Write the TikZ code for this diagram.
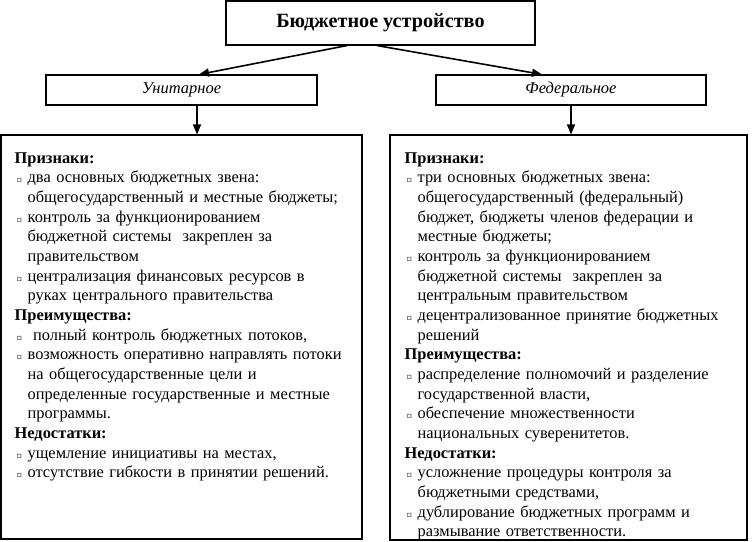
\documentclass[tikz,border=0pt]{standalone}
\usepackage{fontspec}
\setmainfont{Liberation Serif}
\newfontfamily\symfont{DejaVu Sans}
\usetikzlibrary{arrows.meta}
\newcommand{\bul}   {{\symfont\fontsize{8}{8}\selectfont\char"25AB}}
\newcommand{\hd}[1] {\par\noindent\textbf{#1}}
\newcommand{\itm}[1]{\par\hangindent=13pt\hangafter=1\noindent
     \hbox to 13pt{\hskip2pt\bul\hss}{\let\\\newline #1}}

\begin{document}
\begin{tikzpicture}[x=1pt,y=-1pt,
     box/.style={draw,line width=1.1pt,inner sep=0pt},
     body/.style={anchor=north west,inner sep=0pt,text width=345pt,
      font=\fontsize{16.4}{19.65}\selectfont\raggedright},
     arr/.style={-{Triangle[length=10pt,width=8pt]},line width=1.6pt}]
     \useasboundingbox (0,0) rectangle (752,541);
     \node[box,minimum width=309pt,minimum height=44pt,
      font=\fontsize{20.2}{22}\selectfont\bfseries] (title) at (380.5,23) {Бюджетное устройство};
     \node[box,minimum width=271pt,minimum height=30pt,
      font=\fontsize{16.5}{18}\selectfont\itshape] (unit) at (181.5,90) {Унитарное};
     \node[box,minimum width=270pt,minimum height=30pt,
      font=\fontsize{16.5}{18}\selectfont\itshape] (fed) at (571,90) {Федеральное};
     \node[box,minimum width=361pt,minimum height=404pt] (lmain) at (181.5,337) {};
     \node[box,minimum width=357pt,minimum height=405pt] (rmain) at (568.5,337.5) {};
     \draw[arr] ([xshift=-33.5pt]title.south) -- ([xshift=17.5pt]unit.north);
     \draw[arr] ([xshift=-3.5pt]title.south) -- ([xshift=-29pt]fed.north);
     \draw[arr] ([xshift=15.5pt]unit.south) -- ([xshift=15.5pt]unit.south |- lmain.north);
     \draw[arr] (fed.south) -- (fed.south |- rmain.north);
     % left column
     \node[body] (ltext) at ([shift={(14,9)}]lmain.north west) {%
      \hd{Признаки:}
      \itm{два основных бюджетных звена:\\ общегосударственный и местные бюджеты;}
      \itm{контроль за функционированием\\ бюджетной системы\ \ закреплен за\\ правительством}
      \itm{централизация финансовых ресурсов в\\ руках центрального правительства}
      \hd{Преимущества:}
      \itm{\ полный контроль бюджетных потоков,}
      \itm{возможность оперативно направлять потоки\\ на общегосударственные цели и\\ определенные государственные и местные\\ программы.}
      \hd{Недостатки:}
      \itm{ущемление инициативы на местах,}
      \itm{отсутствие гибкости в принятии решений.}\par};
     % right column
     \node[body] (rtext) at ([shift={(15,9)}]rmain.north west) {%
      \hd{Признаки:}
      \itm{три основных бюджетных звена:\\ общегосударственный (федеральный)\\ бюджет, бюджеты членов федерации и\\ местные бюджеты;}
      \itm{контроль за функционированием\\ бюджетной системы\ \ закреплен за\\ центральным правительством}
      \itm{децентрализованное принятие бюджетных\\ решений}
      \hd{Преимущества:}
      \itm{распределение полномочий и разделение\\ государственной власти,}
      \itm{обеспечение множественности\\ национальных суверенитетов.}
      \hd{Недостатки:}
      \itm{усложнение процедуры контроля за\\ бюджетными средствами,}
      \itm{дублирование бюджетных программ и\\ размывание ответственности.}\par};
    \end{tikzpicture}
\end{document}
